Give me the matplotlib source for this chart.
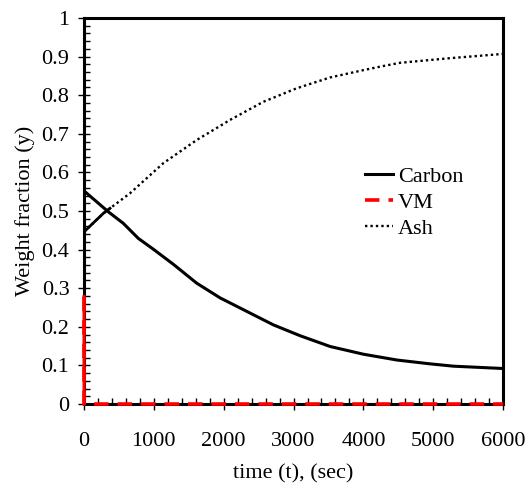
import numpy as np
import matplotlib.pyplot as plt
from matplotlib.ticker import MultipleLocator, FuncFormatter

# Data
time_carbon = [0, 14, 348, 563, 778, 993, 1279, 1614, 1948, 2330, 2712, 3093, 3524, 4001, 4479, 4957, 5291, 6000]
carbon = [0.553, 0.550, 0.498, 0.468, 0.429, 0.401, 0.362, 0.313, 0.275, 0.240, 0.205, 0.177, 0.149, 0.129, 0.114, 0.104, 0.098, 0.092]

time_ash = [0, 277, 372, 659, 1136, 1614, 2091, 2568, 3046, 3523, 4000, 4239, 4525, 5241, 6000]
ash = [0.446, 0.494, 0.507, 0.546, 0.624, 0.684, 0.736, 0.783, 0.818, 0.846, 0.865, 0.874, 0.884, 0.896, 0.907]

time_vm = [0, 1, 6000]
vm = [0.278, 0.0, 0.0]

plt.rcParams['font.family'] = ['Liberation Serif', 'DejaVu Serif']

fig = plt.figure(figsize=(5.29, 4.87), dpi=100)
ax = fig.add_axes([0.1588, 0.1704, 0.7922, 0.7926])

ax.plot(time_carbon, carbon, color='black', lw=2.2, label='Carbon')
ax.plot(time_vm, vm, color='red', lw=2.6, dashes=(4, 2.5), label='VM', zorder=10, clip_on=False)
ax.plot(time_vm[:2], vm[:2], color='red', lw=2.2, zorder=10, clip_on=False)  # initial drop looks solid
ax.plot(time_ash[:3], ash[:3], color='black', lw=2)
ax.plot(time_ash, ash, color='black', lw=1.7, linestyle=(0, (1, 1.3)), label='Ash')

ax.set_xlim(0, 6000)
ax.set_ylim(0, 1)
ax.xaxis.set_major_locator(MultipleLocator(1000))
ax.xaxis.set_minor_locator(MultipleLocator(200))
ax.yaxis.set_major_locator(MultipleLocator(0.1))
ax.yaxis.set_minor_locator(MultipleLocator(0.02))
ax.yaxis.set_major_formatter(FuncFormatter(lambda v, p: f"{v:g}"))

ax.tick_params(which='major', direction='inout', length=9, width=1, labelsize=16, pad=6)
ax.tick_params(which='minor', direction='in', length=4, width=1)
ax.tick_params(axis='x', pad=16)
for s in ax.spines.values():
    s.set_linewidth(2.2)

ax.set_xlabel('time (t), (sec)', fontsize=16, labelpad=9)
ax.set_ylabel('Weight fraction (y)', fontsize=16, labelpad=5)

ax.legend(loc='upper left', bbox_to_anchor=(0.645, 0.645), frameon=False, fontsize=16,
          handlelength=1.25, handletextpad=0.2, labelspacing=0.25, borderpad=0)

fig.savefig('out.png', dpi=100)
